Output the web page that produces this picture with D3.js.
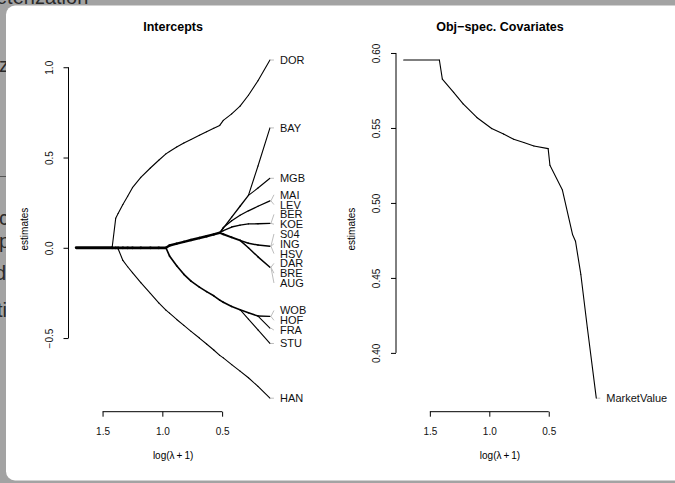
<!DOCTYPE html>
<html>
<head>
<meta charset="utf-8">
<script src="https://cdn.jsdelivr.net/npm/d3@7"></script>
<style>
  body { margin: 0; background: #a3a3a3; overflow: hidden; }
  svg { display: block; font-family: "Liberation Sans", Arial, sans-serif; }
</style>
</head>
<body>
<svg id="chart" width="675" height="483"></svg>
<script>
// ---- data ----
var teams = ["DOR","BAY","MGB","MAI","LEV","BER","KOE","S04","ING","HSV","DAR","BRE","AUG","WOB","HOF","FRA","STU","HAN"];
var logLambda = [1.72, 1.42, 1.39, 1.37, 1.33, 1.29, 1.25, 1.18, 1.10, 1.03, 0.97, 0.94, 0.88, 0.82, 0.76, 0.69, 0.63, 0.57, 0.52, 0.49, 0.42, 0.35, 0.28, 0.20, 0.10];
var interceptValues = [
  // DOR
  [0, 0, 0.163, 0.19, 0.24, 0.285, 0.333, 0.39, 0.442, 0.485, 0.52, 0.533, 0.558, 0.58, 0.60, 0.623, 0.643, 0.662, 0.678, 0.706, 0.742, 0.785, 0.845, 0.925, 1.04],
  // BAY
  [0, 0, 0, 0, 0, 0, 0, 0, 0, 0, 0, 0.013, 0.023, 0.033, 0.043, 0.054, 0.064, 0.074, 0.083, 0.109, 0.17, 0.23, 0.29, 0.453, 0.664],
  // MGB
  [0, 0, 0, 0, 0, 0, 0, 0, 0, 0, 0, 0.013, 0.023, 0.033, 0.043, 0.054, 0.064, 0.074, 0.083, 0.109, 0.17, 0.23, 0.29, 0.331, 0.385],
  // MAI
  [0, 0, 0, 0, 0, 0, 0, 0, 0, 0, 0, 0.013, 0.023, 0.033, 0.043, 0.054, 0.064, 0.074, 0.083, 0.112, 0.15, 0.18, 0.205, 0.23, 0.26],
  // LEV
  [0, 0, 0, 0, 0, 0, 0, 0, 0, 0, 0, 0.013, 0.023, 0.033, 0.043, 0.054, 0.064, 0.074, 0.083, 0.112, 0.15, 0.18, 0.205, 0.23, 0.26],
  // BER
  [0, 0, 0, 0, 0, 0, 0, 0, 0, 0, 0, 0.013, 0.023, 0.033, 0.043, 0.054, 0.064, 0.074, 0.083, 0.095, 0.115, 0.125, 0.132, 0.133, 0.135],
  // KOE
  [0, 0, 0, 0, 0, 0, 0, 0, 0, 0, 0, 0.013, 0.023, 0.033, 0.043, 0.054, 0.064, 0.074, 0.083, 0.095, 0.115, 0.125, 0.132, 0.133, 0.135],
  // S04
  [0, 0, 0, 0, 0, 0, 0, 0, 0, 0, 0, 0.013, 0.023, 0.033, 0.043, 0.054, 0.064, 0.074, 0.083, 0.075, 0.058, 0.041, 0.025, 0.015, 0.009],
  // ING
  [0, 0, 0, 0, 0, 0, 0, 0, 0, 0, 0, 0.013, 0.023, 0.033, 0.043, 0.054, 0.064, 0.074, 0.083, 0.075, 0.058, 0.041, 0.025, 0.015, 0.009],
  // HSV
  [0, 0, 0, 0, 0, 0, 0, 0, 0, 0, 0, 0.013, 0.023, 0.033, 0.043, 0.054, 0.064, 0.074, 0.083, 0.075, 0.058, 0.041, 0.025, 0.015, 0.009],
  // DAR
  [0, 0, 0, 0, 0, 0, 0, 0, 0, 0, 0, 0.013, 0.023, 0.033, 0.043, 0.054, 0.064, 0.074, 0.083, 0.075, 0.058, 0.041, 0.0, -0.05, -0.108],
  // BRE
  [0, 0, 0, 0, 0, 0, 0, 0, 0, 0, 0, 0.013, 0.023, 0.033, 0.043, 0.054, 0.064, 0.074, 0.083, 0.075, 0.058, 0.041, 0.0, -0.05, -0.108],
  // AUG
  [0, 0, 0, 0, 0, 0, 0, 0, 0, 0, 0, 0.013, 0.023, 0.033, 0.043, 0.054, 0.064, 0.074, 0.083, 0.075, 0.058, 0.041, 0.0, -0.05, -0.108],
  // WOB
  [0, 0, 0, 0, 0, 0, 0, 0, 0, 0, 0, -0.045, -0.10, -0.147, -0.185, -0.218, -0.243, -0.266, -0.29, -0.302, -0.325, -0.343, -0.36, -0.378, -0.38],
  // HOF
  [0, 0, 0, 0, 0, 0, 0, 0, 0, 0, 0, -0.045, -0.10, -0.147, -0.185, -0.218, -0.243, -0.266, -0.29, -0.302, -0.325, -0.343, -0.36, -0.378, -0.38],
  // FRA
  [0, 0, 0, 0, 0, 0, 0, 0, 0, 0, 0, -0.045, -0.10, -0.147, -0.185, -0.218, -0.243, -0.266, -0.29, -0.302, -0.325, -0.343, -0.36, -0.378, -0.445],
  // STU
  [0, 0, 0, 0, 0, 0, 0, 0, 0, 0, 0, -0.045, -0.10, -0.147, -0.185, -0.218, -0.243, -0.266, -0.29, -0.302, -0.325, -0.343, -0.395, -0.455, -0.53],
  // HAN
  [0, 0, 0, -0.005, -0.07, -0.105, -0.138, -0.193, -0.253, -0.305, -0.345, -0.362, -0.397, -0.43, -0.463, -0.50, -0.533, -0.566, -0.596, -0.61, -0.647, -0.683, -0.72, -0.768, -0.833]
];

var covNames = ["MarketValue"];
var covLogLambda = [1.72, 1.42, 1.395, 1.30, 1.22, 1.105, 0.98, 0.88, 0.795, 0.71, 0.625, 0.505, 0.49, 0.385, 0.30, 0.275, 0.23, 0.175, 0.10];
var marketValue = [0.5953, 0.5953, 0.5826, 0.5737, 0.566, 0.557, 0.5496, 0.5459, 0.5425, 0.5403, 0.538, 0.5362, 0.5251, 0.5086, 0.479, 0.4745, 0.4523, 0.4166, 0.3698];

var lambdaTicks = [1.5, 1.0, 0.5];
var interceptTicks = [-0.5, 0.0, 0.5, 1.0];
var covTicks = [0.40, 0.45, 0.50, 0.55, 0.60];

// ---- page look ----
var svg = d3.select("#chart");

// bits of the page lying under the plot window
var under = svg.append("g").attr("fill", "#2a2a2a").attr("font-size", "20px");
under.append("text").attr("x", -4).attr("y", 4).text("eterization");
under.append("text").attr("x", -1).attr("y", 72).text("z");
under.append("text").attr("x", -1).attr("y", 225).text("c");
under.append("text").attr("x", -1).attr("y", 248).text("p");
under.append("text").attr("x", -5).attr("y", 280).text("d");
under.append("text").attr("x", -3).attr("y", 317).text("ti");
svg.append("line").attr("x1", 0).attr("x2", 8).attr("y1", 176.5).attr("y2", 176.5)
   .attr("stroke", "#555").attr("stroke-width", 1);

svg.append("rect")
   .attr("x", 6).attr("y", 5.5).attr("width", 680).attr("height", 475)
   .attr("rx", 9).attr("fill", "white");

var plotTop = 46.5, plotBottom = 411.7;

function padded(ext) {
  var r = ext[1] - ext[0];
  return [ext[0] - 0.04 * r, ext[1] + 0.04 * r];
}

function drawPanel(opt) {
  var xd = padded(d3.extent(opt.xs));
  var x = d3.scaleLinear().domain([xd[1], xd[0]]).range([opt.left, opt.right]);
  var y = d3.scaleLinear().domain(padded(opt.yExtent)).range([plotBottom, plotTop]);
  var g = svg.append("g");

  // title
  g.append("text")
   .attr("x", (opt.left + opt.right) / 2).attr("y", 30.5)
   .attr("text-anchor", "middle").attr("font-weight", "bold").attr("font-size", "12.5px")
   .text(opt.title);

  // x axis
  var xa = g.append("g").attr("transform", "translate(0," + plotBottom + ")")
    .call(d3.axisBottom(x).tickValues(lambdaTicks).tickFormat(d3.format(".1f"))
      .tickSize(5).tickPadding(11.5));
  xa.select(".domain").remove();
  xa.selectAll("text").attr("font-size", "10px").attr("font-family", null).attr("fill", "#111");
  xa.append("line").attr("x1", x(lambdaTicks[0])).attr("x2", x(lambdaTicks[lambdaTicks.length - 1]))
    .attr("stroke", "black");
  g.append("text")
   .attr("x", (opt.left + opt.right) / 2).attr("y", 459)
   .attr("text-anchor", "middle").attr("font-size", "10px")
   .text("log(\u03bb\u2009+\u20091)");

  // y axis
  var ya = g.append("g").attr("transform", "translate(" + opt.left + ",0)")
    .call(d3.axisLeft(y).tickValues(opt.yTicks).tickFormat(d3.format(opt.yFormat)).tickSize(5));
  ya.select(".domain").remove();
  ya.selectAll("text")
    .attr("font-size", "10px").attr("font-family", null).attr("fill", "#111")
    .attr("transform", "rotate(-90)")
    .attr("x", 0).attr("y", -16).attr("dy", null)
    .attr("text-anchor", "middle");
  ya.append("line").attr("y1", y(opt.yTicks[0])).attr("y2", y(opt.yTicks[opt.yTicks.length - 1]))
    .attr("stroke", "black");
  g.append("text")
   .attr("transform", "translate(" + (opt.left - 41) + "," + ((plotTop + plotBottom) / 2) + ") rotate(-90)")
   .attr("text-anchor", "middle").attr("font-size", "10px")
   .text("estimates");

  // path segments; shared stretches get a heavier stroke
  var segs = new Map();
  opt.series.forEach(function(vals) {
    for (var j = 0; j < vals.length - 1; j++) {
      var key = j + "|" + vals[j] + "|" + vals[j + 1];
      if (!segs.has(key)) segs.set(key, {x0: opt.xs[j], x1: opt.xs[j + 1], y0: vals[j], y1: vals[j + 1], n: 0});
      segs.get(key).n += 1;
    }
  });
  g.append("g").selectAll("line")
    .data(Array.from(segs.values()).sort(function(a, b) { return a.n - b.n; }))
    .enter().append("line")
    .attr("x1", function(d) { return x(d.x0); })
    .attr("x2", function(d) { return x(d.x1); })
    .attr("y1", function(d) { return y(d.y0); })
    .attr("y2", function(d) { return y(d.y1); })
    .attr("stroke", "black")
    .attr("stroke-linecap", "round")
    .attr("stroke-width", function(d) { return 1.1 + 0.55 * (Math.sqrt(d.n) - 1); });

  // labels at the right end, spread so they do not overlap
  var xEnd = x(opt.xs[opt.xs.length - 1]);
  var labs = opt.names.map(function(nm, i) {
    var v = opt.series[i][opt.series[i].length - 1];
    return {name: nm, target: y(v), i: i};
  }).sort(function(a, b) { return a.target - b.target || a.i - b.i; });
  var gap = 9.8;
  var clusters = labs.map(function(l) { return {items: [l], c: l.target}; });
  var merged = true;
  while (merged) {
    merged = false;
    for (var k = 0; k < clusters.length - 1; k++) {
      var a = clusters[k], b = clusters[k + 1];
      var aBot = a.c + (a.items.length - 1) / 2 * gap;
      var bTop = b.c - (b.items.length - 1) / 2 * gap;
      if (bTop - aBot < gap) {
        var items = a.items.concat(b.items);
        clusters.splice(k, 2, {items: items, c: d3.mean(items, function(t) { return t.target; })});
        merged = true;
        break;
      }
    }
  }
  clusters.forEach(function(c) {
    c.items.forEach(function(t, idx) { t.pos = c.c + (idx - (c.items.length - 1) / 2) * gap; });
  });

  g.append("g").selectAll("line").data(labs).enter().append("line")
    .attr("x1", xEnd + 1).attr("x2", xEnd + 4)
    .attr("y1", function(d) { return d.target; })
    .attr("y2", function(d) { return d.pos; })
    .attr("stroke", "#bdbdbd").attr("stroke-width", 1);
  g.append("g").selectAll("text").data(labs).enter().append("text")
    .attr("x", xEnd + 10)
    .attr("y", function(d) { return d.pos; })
    .attr("dy", "0.36em")
    .attr("font-size", "11px").attr("fill", "#111")
    .text(function(d) { return d.name; });
}

var allIntercepts = d3.merge(interceptValues);
drawPanel({
  title: "Intercepts",
  left: 68.5, right: 277.7,
  xs: logLambda,
  yExtent: d3.extent(allIntercepts),
  yTicks: interceptTicks, yFormat: ".1f",
  series: interceptValues, names: teams
});

drawPanel({
  title: "Obj\u2212spec. Covariates",
  left: 396, right: 604,
  xs: covLogLambda,
  yExtent: d3.extent(marketValue),
  yTicks: covTicks, yFormat: ".2f",
  series: [marketValue], names: covNames
});
</script>
</body>
</html>
